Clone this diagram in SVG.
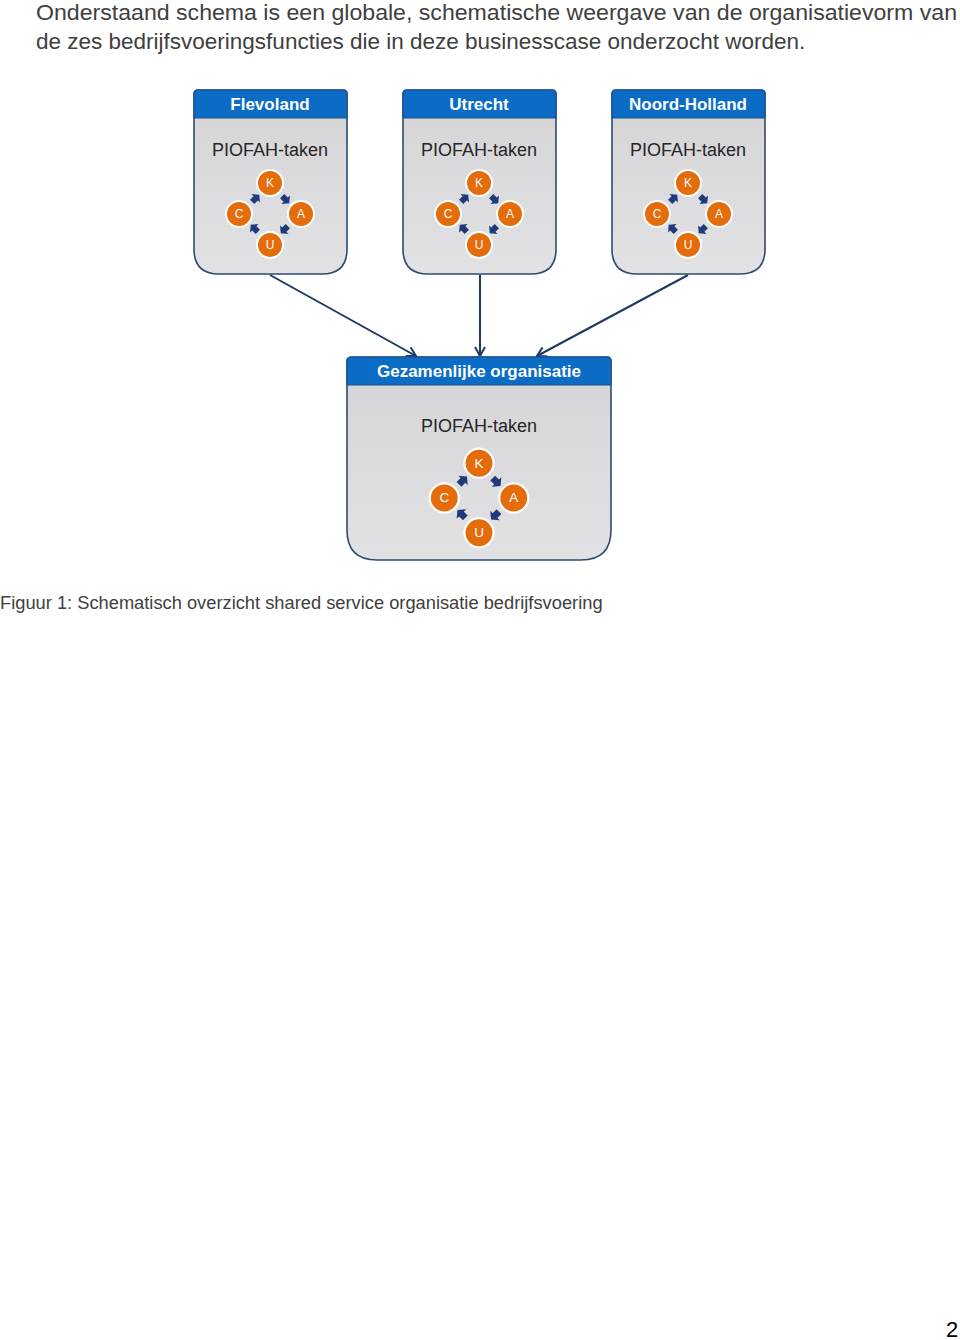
<svg xmlns="http://www.w3.org/2000/svg" width="960" height="1340" viewBox="0 0 960 1340">
<style>
.body{font-family:"Liberation Sans",Arial,sans-serif;fill:#404040}
.hdr{font-family:"Liberation Sans",Arial,sans-serif;font-weight:bold;fill:#ffffff;font-size:17px;text-anchor:middle}
.task{font-family:"Liberation Sans",Arial,sans-serif;fill:#262626;font-size:18px;text-anchor:middle}
.box{fill:url(#g);stroke:#2f4a6e;stroke-width:1.6}
.head{fill:#0a6cc4;stroke:#1b4f8c;stroke-width:1.2}
.c{fill:#e46c0a;stroke:#ffffff;stroke-width:2}
.cl{font-family:"Liberation Sans",Arial,sans-serif;fill:#ffffff;text-anchor:middle}
.ar{fill:#1f3a7a}
.con{stroke:#1f3864;stroke-width:2;fill:none;marker-end:url(#m)}
</style>
<defs>
<linearGradient id="g" x1="0" y1="0" x2="0" y2="1"><stop offset="0" stop-color="#d4d4d6"/><stop offset="1" stop-color="#e2e2e4"/></linearGradient>
<marker id="m" viewBox="0 0 12 12" refX="11" refY="6" markerWidth="12" markerHeight="12" orient="auto" markerUnits="userSpaceOnUse">
<path d="M2,1 L11,6 L2,11" fill="none" stroke="#1f3864" stroke-width="2"/>
</marker>
<g id="sa"><path d="M-4,-3 L1,-3 L1,-6 L6,0 L1,6 L1,3 L-4,3 Z" class="ar"/></g>
<g id="cyc">
<circle class="c" cx="0" cy="-31" r="13"/>
<circle class="c" cx="-31" cy="0" r="13"/>
<circle class="c" cx="31" cy="0" r="13"/>
<circle class="c" cx="0" cy="31" r="13"/>
<text class="cl" x="0" y="-27" font-size="12">K</text>
<text class="cl" x="-31" y="4" font-size="12">C</text>
<text class="cl" x="31" y="4" font-size="12">A</text>
<text class="cl" x="0" y="35" font-size="12">U</text>
<use href="#sa" transform="translate(15,-15) rotate(45)"/>
<use href="#sa" transform="translate(15,15) rotate(135)"/>
<use href="#sa" transform="translate(-15,15) rotate(-135)"/>
<use href="#sa" transform="translate(-15,-15) rotate(-45)"/>
</g>
</defs>
<rect width="960" height="1340" fill="#ffffff"/>
<text class="body" font-size="22.5" x="36" y="20" textLength="921" lengthAdjust="spacingAndGlyphs">Onderstaand schema is een globale, schematische weergave van de organisatievorm van</text>
<text class="body" font-size="22.5" x="36" y="49">de zes bedrijfsvoeringsfuncties die in deze businesscase onderzocht worden.</text>

<g id="connectors">
<line class="con" x1="270" y1="275" x2="416" y2="356"/>
<line class="con" x1="480" y1="275" x2="480" y2="356"/>
<line class="con" x1="688" y1="275" x2="537" y2="356"/>
</g>

<g id="flevoland">
<path class="box" d="M198,90 H343 Q347,90 347,94 V249 Q347,274 322,274 H219 Q194,274 194,249 V94 Q194,90 198,90 Z"/>
<path class="head" d="M198,90 H343 Q347,90 347,94 V118 H194 V94 Q194,90 198,90 Z"/>
<text class="hdr" x="270" y="110">Flevoland</text>
<text class="task" x="270" y="156">PIOFAH-taken</text>
<use href="#cyc" transform="translate(270,214)"/>
</g>
<g id="utrecht">
<path class="box" d="M407,90 H552 Q556,90 556,94 V249 Q556,274 531,274 H428 Q403,274 403,249 V94 Q403,90 407,90 Z"/>
<path class="head" d="M407,90 H552 Q556,90 556,94 V118 H403 V94 Q403,90 407,90 Z"/>
<text class="hdr" x="479" y="110">Utrecht</text>
<text class="task" x="479" y="156">PIOFAH-taken</text>
<use href="#cyc" transform="translate(479,214)"/>
</g>
<g id="noord-holland">
<path class="box" d="M616,90 H761 Q765,90 765,94 V249 Q765,274 740,274 H637 Q612,274 612,249 V94 Q612,90 616,90 Z"/>
<path class="head" d="M616,90 H761 Q765,90 765,94 V118 H612 V94 Q612,90 616,90 Z"/>
<text class="hdr" x="688" y="110">Noord-Holland</text>
<text class="task" x="688" y="156">PIOFAH-taken</text>
<use href="#cyc" transform="translate(688,214)"/>
</g>
<g id="gezamenlijk">
<path class="box" d="M352,357 H607 Q611,357 611,361 V530 Q611,560 581,560 H377 Q347,560 347,530 V361 Q347,357 352,357 Z"/>
<path class="head" d="M352,357 H607 Q611,357 611,361 V385 H347 V361 Q347,357 352,357 Z"/>
<text class="hdr" x="479" y="377">Gezamenlijke organisatie</text>
<text class="task" x="479" y="432">PIOFAH-taken</text>
<use href="#cyc" transform="translate(479,498) scale(1.12)"/>
</g>

<text class="body" font-size="18.3" x="0" y="609">Figuur 1: Schematisch overzicht shared service organisatie bedrijfsvoering</text>
<text font-family="Liberation Sans,Arial,sans-serif" font-size="22" fill="#000000" x="946" y="1337">2</text>
</svg>
